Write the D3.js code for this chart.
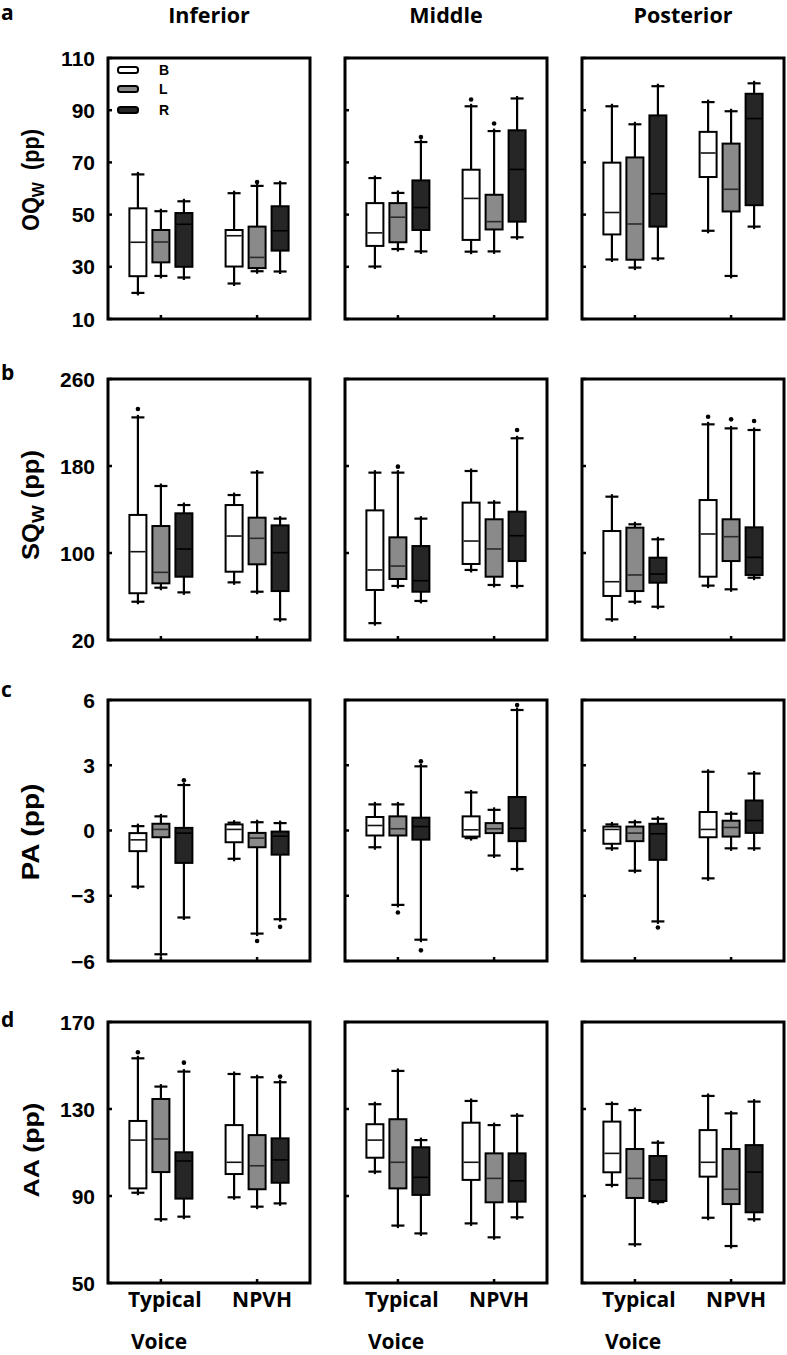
<!DOCTYPE html>
<html><head><meta charset="utf-8">
<script src="https://cdn.jsdelivr.net/npm/d3@7"></script>
<style>body{margin:0;background:#fff}svg{display:block}</style>
</head><body><svg id="chart" width="787" height="1355"></svg>
<script>
// ---------------- data ----------------
const regions = ["Inferior", "Middle", "Posterior"];
const groups = [["Typical", "Voice"], ["NPVH"]];
const sides = ["B", "L", "R"];
const panelLetters = ["a", "b", "c", "d"];

const oqTicks = [10, 30, 50, 70, 90, 110];
const sqTicks = [20, 100, 180, 260];
const paTicks = [-6, -3, 0, 3, 6];
const aaTicks = [50, 90, 130, 170];

// box = [low whisker, q1, median, q3, high whisker]; order: TV B,L,R then NPVH B,L,R
const oqInferior  = [[20,26.4,39.4,52.4,65.4],[26.5,31.7,39.5,44.1,51.3],[25.9,30,46.3,50.6,55.1],[23.6,30.1,41.9,44.1,58.2],[28.3,29.5,33.6,45.4,61],[28.2,36.2,43.8,53.2,62]];
const oqMiddle    = [[30.1,38,43,54.4,64],[36.8,39.4,49,54.4,58.3],[35.9,44.1,52.7,63.1,77.8],[35.8,40.3,56.2,67.2,91.5],[35.9,44.3,47.3,57.6,82],[41.3,47.3,67.3,82.3,94.5]];
const oqPosterior = [[32.8,42.4,50.8,69.9,91.5],[29.7,32.7,46.4,71.9,84.6],[33.2,45.4,58,88,99.2],[43.8,64.4,73.6,81.7,93.1],[26.5,51.2,59.7,77.2,89.6],[45.4,53.6,86.8,96.3,100.3]];
const oqOutliers  = [[0,4,62.5],[1,2,79.7],[1,3,94.1],[1,4,84.9]];

const sqInferior  = [[55.2,63,101.2,135,224.7],[68.1,72.1,82.2,124.8,161.6],[63.8,78.2,103.7,136.5,144.1],[73,82.8,115.6,144.1,153.3],[64.4,89.6,113.5,132.5,174],[39,65,100.3,125.4,131.6]];
const sqMiddle    = [[35.5,66,84.4,139.2,173.9],[69.7,76.1,88,114.4,173.9],[55.9,64.4,74.5,106.4,131.6],[84.4,89.9,111,146.3,175.4],[70.6,78.2,103.7,131,146.3],[69.7,92.6,115.9,138,205.5]];
const sqPosterior = [[39,60.5,73.6,120.2,151.8],[55.2,65,79.8,123.3,126.4],[50.6,72.7,80.7,95.7,112.6],[70,78.2,117.5,148.7,218.3],[66.6,92.6,115,131,214.6],[77.3,79.8,96,123.6,213.1]];
const sqOutliers  = [[0,0,232.4],[1,1,179.4],[1,5,213.1],[2,3,225.3],[2,4,222.9],[2,5,221.4]];

const paInferior  = [[-2.58,-0.95,-0.43,-0.12,0.2],[-5.69,-0.31,0.05,0.31,0.65],[-4.0,-1.49,-0.12,0.12,2.09],[-1.3,-0.54,0.05,0.28,0.36],[-4.74,-0.77,-0.35,-0.11,0.38],[-4.08,-1.11,-0.26,-0.05,0.34]];
const paMiddle    = [[-0.77,-0.23,0.23,0.62,1.2],[-3.42,-0.23,0.08,0.65,1.2],[-5.02,-0.42,0.18,0.59,2.95],[-0.35,-0.28,0.03,0.65,1.75],[-1.15,-0.12,0.08,0.34,0.95],[-1.77,-0.49,0.1,1.54,5.54]];
const paPosterior = [[-0.82,-0.61,0.05,0.18,0.28],[-1.85,-0.49,-0.12,0.18,0.38],[-4.18,-1.35,-0.15,0.31,0.54],[-2.2,-0.31,0.05,0.85,2.7],[-0.82,-0.28,0.14,0.45,0.77],[-0.82,-0.11,0.46,1.38,2.62]];
const paOutliers  = [[0,2,2.31],[0,4,-5.08],[0,5,-4.43],[1,1,-3.77],[1,2,3.18],[1,2,-5.51],[1,5,5.77],[2,2,-4.46]];

const aaInferior  = [[91.5,93.5,115.7,124.5,153.3],[79.3,101,116.2,134.6,140.3],[80.5,88.8,106.1,110.1,147.2],[89.4,100.1,105.5,122.6,146.1],[85.1,93.1,103.9,118,144.6],[86.6,96.1,106.6,116.5,142.3]];
const aaMiddle    = [[101.2,107.6,115.7,123,132.2],[76.4,93.5,105.5,125.3,147.5],[72.8,90.5,98.6,112.4,115.7],[77.4,97.4,105.5,123.7,133.7],[71,87.1,98.1,109.6,122.6],[80.2,87.4,97,109.6,126.9]];
const aaPosterior = [[95.1,100.9,109.6,124.2,132.3],[67.8,89.1,98.1,111.6,129.5],[87.2,87.7,97.4,108.4,114.5],[80,98.9,105.5,120.3,136],[67,86.3,93.1,111.6,128],[79.3,82.5,101,113.4,133.4]];
const aaOutliers  = [[0,0,156.1],[0,2,151.3],[0,5,144.9]];

// ---------------- rows ----------------
const rows = [
  {title: ["OQ", "W", "\u00a0\u00a0(pp)"], domain: [10, 110], ticks: oqTicks, boxes: [oqInferior, oqMiddle, oqPosterior], outliers: oqOutliers},
  {title: ["SQ", "W", " (pp)"], domain: [20, 260], ticks: sqTicks, boxes: [sqInferior, sqMiddle, sqPosterior], outliers: sqOutliers},
  {title: ["PA (pp)"], domain: [-6, 6], ticks: paTicks, boxes: [paInferior, paMiddle, paPosterior], outliers: paOutliers},
  {title: ["AA (pp)"], domain: [50, 170], ticks: aaTicks, boxes: [aaInferior, aaMiddle, aaPosterior], outliers: aaOutliers}
];
// rendered length and centre of each y title, as measured on the reference
const titleLen = [102, 110, 97, 95];
const titleMid = [180, 505, 832, 1150];

// ---------------- layout ----------------
const colLeft = [108, 345, 582];
const panelW = 202;
const rowTop = [58, 379, 700, 1022];
const panelH = 261;
const fills = {B: "#ffffff", L: "#8a8a8a", R: "#262626"};
const medColor = {B: "#111", L: "#2a2a2a", R: "#000"};
const boxW = 17, capW = 13;

const svg = d3.select("#chart");
const x = d3.scaleLinear().domain([0.45, 2.55]).range([0, panelW]);
const xs = d3.scalePoint().domain(sides).range([-23, 23]);

const boldSans = "'Liberation Sans', Arial, sans-serif";
const titleSans = "'Open Sans', Lato, sans-serif";

// column headers
regions.forEach((r, ci) => {
  svg.append("text").attr("x", colLeft[ci] + panelW / 2).attr("y", 23)
    .attr("text-anchor", "middle").attr("font-family", titleSans).attr("font-weight", 700)
    .attr("font-size", 21.5).text(r);
});

rows.forEach((row, ri) => {
  const y = d3.scaleLinear().domain(row.domain).range([rowTop[ri] + panelH, rowTop[ri]]);
  // panel letter
  svg.append("text").attr("x", 1)
    .attr("font-family", titleSans).attr("font-weight", 700).attr("font-size", 21)
    .attr("y", [20, 380, 697, 1027][ri]).text(panelLetters[ri]);

  // y axis title
  const t = svg.append("text")
    .attr("text-anchor", "middle").attr("font-family", boldSans).attr("font-weight", 700)
    .attr("font-size", 23);
  if (row.title.length === 3) {
    t.append("tspan").text(row.title[0]);
    t.append("tspan").attr("font-size", 17).attr("dy", 5).text(row.title[1]);
    t.append("tspan").attr("dy", -5).text(row.title[2]);
  } else {
    t.text(row.title[0]);
  }
  const natural = t.node().getBBox().width || titleLen[ri];
  const sx = titleLen[ri] / natural;
  t.attr("transform", `translate(39,${titleMid[ri]}) rotate(-90) scale(${sx},1)`);

  // tick labels (first column)
  svg.append("g").selectAll("text").data(row.ticks).join("text")
    .attr("x", 95).attr("y", d => y(d)).attr("dy", "0.36em")
    .attr("text-anchor", "end").attr("font-family", boldSans).attr("font-weight", 700)
    .attr("font-size", 21).text(d => d3.format("")(d));

  regions.forEach((reg, ci) => {
    const g = svg.append("g").attr("transform", `translate(${colLeft[ci]},0)`);
    // inner ticks left
    g.append("g").selectAll("line").data(row.ticks).join("line")
      .attr("x1", 0).attr("x2", 4).attr("y1", d => y(d)).attr("y2", d => y(d))
      .attr("stroke", "#000").attr("stroke-width", 2.5);
    // inner ticks bottom
    g.append("g").selectAll("line").data([1, 2]).join("line")
      .attr("x1", d => x(d)).attr("x2", d => x(d))
      .attr("y1", rowTop[ri] + panelH).attr("y2", rowTop[ri] + panelH - 4)
      .attr("stroke", "#000").attr("stroke-width", 2.5);

    const boxes = row.boxes[ci];
    boxes.forEach((b, bi) => {
      const gi = Math.floor(bi / 3), side = sides[bi % 3];
      const cx = x(gi + 1) + xs(side);
      const [lo, q1, med, q3, hi] = b;
      const bg = g.append("g");
      // whiskers
      bg.append("line").attr("x1", cx).attr("x2", cx).attr("y1", y(hi) - 2.5).attr("y2", y(q3))
        .attr("stroke", "#000").attr("stroke-width", 2.2);
      bg.append("line").attr("x1", cx).attr("x2", cx).attr("y1", y(q1)).attr("y2", y(lo) + 2.5)
        .attr("stroke", "#000").attr("stroke-width", 2.2);
      [hi, lo].forEach(v => {
        bg.append("line").attr("x1", cx - capW / 2).attr("x2", cx + capW / 2)
          .attr("y1", y(v)).attr("y2", y(v)).attr("stroke", "#000").attr("stroke-width", 2.2);
      });
      // box
      bg.append("rect").attr("x", cx - boxW / 2).attr("width", boxW)
        .attr("y", y(q3)).attr("height", Math.max(1, y(q1) - y(q3)))
        .attr("fill", fills[side]).attr("stroke", "#000").attr("stroke-width", 2);
      bg.append("line").attr("x1", cx - boxW / 2 + 1).attr("x2", cx + boxW / 2 - 1)
        .attr("y1", y(med)).attr("y2", y(med))
        .attr("stroke", medColor[side]).attr("stroke-width", 1.6);
    });
    // outliers
    row.outliers.filter(o => o[0] === ci).forEach(o => {
      const gi = Math.floor(o[1] / 3), side = sides[o[1] % 3];
      g.append("circle").attr("cx", x(gi + 1) + xs(side)).attr("cy", y(o[2])).attr("r", 2.3).attr("fill", "#000");
    });
    // frame
    g.append("rect").attr("x", 0).attr("y", rowTop[ri]).attr("width", panelW).attr("height", panelH)
      .attr("fill", "none").attr("stroke", "#000").attr("stroke-width", 3);
  });
});

// legend in first panel
const lg = svg.append("g");
sides.forEach((s, i) => {
  const ly = [70, 89, 110][i];
  lg.append("rect").attr("x", 118).attr("y", ly - 3).attr("width", 20).attr("height", 6).attr("rx", 2.5)
    .attr("fill", fills[s]).attr("stroke", "#000").attr("stroke-width", 2);
  lg.append("text").attr("x", 159).attr("y", ly).attr("dy", "0.36em")
    .attr("font-family", boldSans).attr("font-weight", 700).attr("font-size", 14).text(s);
});

// bottom group labels
regions.forEach((r, ci) => {
  groups.forEach((lines, gi) => {
    const cx = colLeft[ci] + x(gi + 1);
    const t = svg.append("text").attr("font-family", titleSans)
      .attr("font-weight", 700).attr("font-size", 21)
      .attr("text-anchor", gi === 0 ? "start" : "middle");
    lines.forEach((l, li) => {
      t.append("tspan").attr("x", gi === 0 ? cx - 33 + li * 3 : cx + 5).attr("y", 1307 + li * 42).text(l);
    });
  });
});
</script></body></html>
